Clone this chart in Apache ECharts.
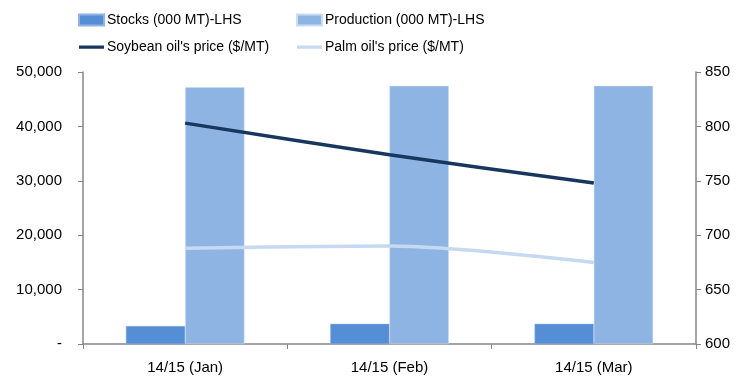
<!DOCTYPE html>
<html>
<head>
<meta charset="utf-8">
<script src="https://cdn.jsdelivr.net/npm/echarts@6/dist/echarts.min.js"></script>
<style>
  html, body { margin: 0; padding: 0; background: #fff; }
  #chart { width: 743px; height: 376px; }
</style>
</head>
<body>
<div id="chart"></div>
<script>
// Vegetable oil market snapshot, 2014/15 season
const categories = ['14/15 (Jan)', '14/15 (Feb)', '14/15 (Mar)'];
const stocks = [3300, 3700, 3700];            // 000 MT, left axis
const production = [47200, 47450, 47450];     // 000 MT, left axis
const soybeanPrice = [803, 774, 748];         // $/MT, right axis
const palmPrice = [688, 690, 675];            // $/MT, right axis

const leftTicks = { min: 0, max: 50000, interval: 10000 };
const rightTicks = { min: 600, max: 850, interval: 50 };

const font = "'Liberation Sans', Arial, sans-serif";
const textColor = '#000';
const axisColor = '#868686';

// thin horizontal stroke inside a 25x11 box, used as the legend key for the lines
const lineKey = 'path://M0,0 L0.01,0 L0.01,0.01 Z M0,4 L25,4 L25,7.2 L0,7.2 Z M25,11 L24.99,11 L24.99,10.99 Z';

const chart = echarts.init(document.getElementById('chart'), null, { renderer: 'canvas' });

const legendText = { fontFamily: font, fontSize: 14, color: textColor, padding: [0, 0, 0, -2] };

chart.setOption({
  animation: false,
  backgroundColor: '#fff',
  grid: { left: 83, right: 47, top: 72, bottom: 32 },
  legend: [
    {
      orient: 'vertical', left: 78, top: 13, padding: 0,
      itemWidth: 25, itemHeight: 11, itemGap: 13,
      textStyle: legendText,
      data: [
        { name: 'Stocks (000 MT)-LHS', icon: 'rect' },
        { name: "Soybean oil's price ($/MT)", icon: lineKey }
      ]
    },
    {
      orient: 'vertical', left: 296, top: 13, padding: 0,
      itemWidth: 25, itemHeight: 11, itemGap: 13,
      textStyle: legendText,
      data: [
        { name: 'Production (000 MT)-LHS', icon: 'rect' },
        { name: "Palm oil's price ($/MT)", icon: lineKey }
      ]
    }
  ],
  xAxis: {
    type: 'category',
    data: categories,
    axisLine: { lineStyle: { color: axisColor, width: 1.5 } },
    axisTick: { show: true, length: 5, lineStyle: { color: axisColor } },
    axisLabel: { fontFamily: font, fontSize: 15, color: textColor, margin: 16 }
  },
  yAxis: [
    {
      type: 'value', position: 'left',
      min: leftTicks.min, max: leftTicks.max, interval: leftTicks.interval,
      splitLine: { show: false },
      axisLine: { show: true, lineStyle: { color: axisColor, width: 1.5 } },
      axisTick: { show: true, length: 5, lineStyle: { color: axisColor } },
      axisLabel: {
        fontFamily: font, fontSize: 15, color: textColor, margin: 21,
        formatter: v => v === 0 ? '-' : v.toLocaleString('en-US')
      }
    },
    {
      type: 'value', position: 'right',
      min: rightTicks.min, max: rightTicks.max, interval: rightTicks.interval,
      splitLine: { show: false },
      axisLine: { show: true, lineStyle: { color: axisColor, width: 1.5 } },
      axisTick: { show: true, length: 5, lineStyle: { color: axisColor } },
      axisLabel: { fontFamily: font, fontSize: 15, color: textColor, margin: 9 }
    }
  ],
  series: [
    {
      name: 'Stocks (000 MT)-LHS', type: 'bar', yAxisIndex: 0, data: stocks,
      barGap: '0%', barCategoryGap: '42%',
      itemStyle: { color: '#558ED5', borderColor: '#8fb3e4', borderWidth: 0.5 }
    },
    {
      name: 'Production (000 MT)-LHS', type: 'bar', yAxisIndex: 0, data: production,
      barGap: '0%', barCategoryGap: '42%',
      itemStyle: { color: '#8EB4E3', borderColor: '#c9dcf3', borderWidth: 0.5 }
    },
    {
      name: "Soybean oil's price ($/MT)", type: 'line', yAxisIndex: 1, data: soybeanPrice,
      smooth: 0.3, symbol: 'none', z: 5,
      lineStyle: { color: '#17375E', width: 3.5 }, itemStyle: { color: '#17375E' }
    },
    {
      name: "Palm oil's price ($/MT)", type: 'line', yAxisIndex: 1, data: palmPrice,
      smooth: 0.3, symbol: 'none', z: 5,
      lineStyle: { color: '#C6D9F1', width: 3.5 }, itemStyle: { color: '#C6D9F1' }
    }
  ]
});
</script>
</body>
</html>
